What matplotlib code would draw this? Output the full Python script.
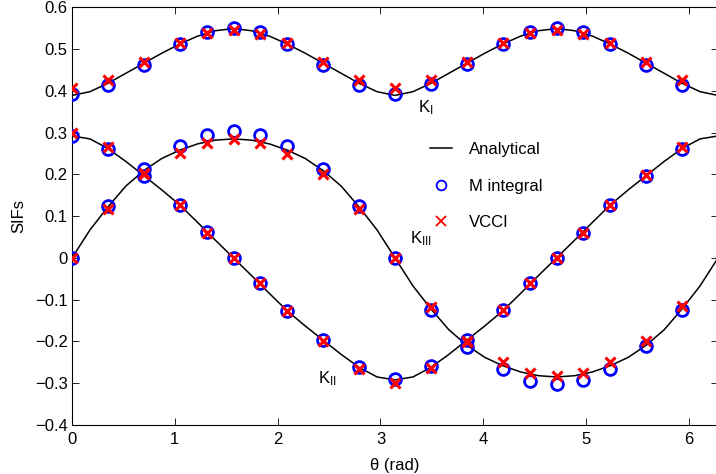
import numpy as np
import matplotlib
matplotlib.use("Agg")
import matplotlib.pyplot as plt
from matplotlib.lines import Line2D

plt.rcParams['font.family'] = ['Liberation Sans', 'DejaVu Sans']
plt.rcParams['mathtext.fontset'] = 'custom'
plt.rcParams['mathtext.rm'] = 'Liberation Sans'
plt.rcParams['mathtext.it'] = 'Liberation Sans:italic'

# ---- data ----
# analytical curves, sampled every 10 degrees from 0 to 360
theta_line_deg = np.arange(0, 361, 10)
KI_line = [0.389, 0.398, 0.418, 0.442, 0.466, 0.490, 0.512, 0.531, 0.544, 0.549,
           0.544, 0.531, 0.512, 0.490, 0.466, 0.442, 0.418, 0.398, 0.389,
           0.398, 0.418, 0.442, 0.466, 0.490, 0.512, 0.531, 0.544, 0.549,
           0.544, 0.531, 0.512, 0.490, 0.466, 0.442, 0.418, 0.398, 0.389]
KII_line = [0.292, 0.285, 0.262, 0.231, 0.197, 0.163, 0.127, 0.085, 0.042, 0.0,
            -0.042, -0.085, -0.127, -0.163, -0.197, -0.231, -0.262, -0.285, -0.292,
            -0.285, -0.262, -0.231, -0.197, -0.163, -0.127, -0.085, -0.042, 0.0,
            0.042, 0.085, 0.127, 0.163, 0.197, 0.231, 0.262, 0.285, 0.292]
KIII_line = [0.0, 0.067, 0.122, 0.172, 0.209, 0.238, 0.258, 0.273, 0.282, 0.285,
             0.282, 0.273, 0.258, 0.238, 0.209, 0.172, 0.122, 0.067, 0.0,
             -0.067, -0.122, -0.172, -0.209, -0.238, -0.258, -0.273, -0.282, -0.285,
             -0.282, -0.273, -0.258, -0.238, -0.209, -0.172, -0.122, -0.067, 0.0]

# numerical results
theta_pts_deg = [0, 20, 40, 60, 75, 90, 105, 120, 140, 160,
                 180, 200, 220, 240, 255, 270, 285, 300, 320, 340]
KI_M = [0.392, 0.414, 0.463, 0.511, 0.541, 0.550, 0.540, 0.511, 0.463, 0.414,
        0.392, 0.416, 0.464, 0.513, 0.541, 0.550, 0.540, 0.511, 0.463, 0.414]
KI_V = [0.406, 0.426, 0.468, 0.514, 0.538, 0.546, 0.536, 0.514, 0.468, 0.426,
        0.406, 0.425, 0.468, 0.514, 0.538, 0.546, 0.536, 0.514, 0.468, 0.426]
KII_M = [0.292, 0.260, 0.196, 0.127, 0.061, 0.0, -0.059, -0.126, -0.197, -0.260,
         -0.289, -0.259, -0.196, -0.125, -0.059, 0.0, 0.059, 0.126, 0.197, 0.260]
KII_V = [0.298, 0.266, 0.203, 0.127, 0.060, 0.0, -0.060, -0.127, -0.198, -0.266,
         -0.299, -0.264, -0.199, -0.125, -0.060, 0.0, 0.060, 0.127, 0.199, 0.266]
KIII_M = [0.0, 0.125, 0.214, 0.268, 0.294, 0.303, 0.294, 0.267, 0.213, 0.125,
          0.0, -0.125, -0.214, -0.265, -0.294, -0.302, -0.293, -0.266, -0.211, -0.125]
KIII_V = [0.0, 0.116, 0.201, 0.250, 0.275, 0.284, 0.276, 0.249, 0.201, 0.116,
          0.0, -0.117, -0.201, -0.248, -0.276, -0.283, -0.275, -0.250, -0.198, -0.114]

xticks = [0, 1, 2, 3, 4, 5, 6]
yticks = [-0.4, -0.3, -0.2, -0.1, 0.0, 0.1, 0.2, 0.3, 0.4, 0.5, 0.6]
ytick_labels = ['\u22120.4', '\u22120.3', '\u22120.2', '\u22120.1', '0',
                '0.1', '0.2', '0.3', '0.4', '0.5', '0.6']

# ---- figure ----
W, H = 716, 474
fig = plt.figure(figsize=(W / 100, H / 100), dpi=100)
ax = fig.add_axes([72 / W, 1 - 425 / H, (718 - 72) / W, (425 - 7.3) / H])

tl = np.deg2rad(theta_line_deg)
tp = np.deg2rad(theta_pts_deg)

for yl in (KI_line, KII_line, KIII_line):
    ax.plot(tl, yl, color='black', lw=1.1, zorder=2)
for ym in (KI_M, KII_M, KIII_M):
    ax.plot(tp, ym, linestyle='none', marker='o', ms=8.5, mfc='none',
            mec=(0, 0, 1), mew=2.0, zorder=3)
for yv in (KI_V, KII_V, KIII_V):
    ax.plot(tp, yv, linestyle='none', marker='x', ms=6.5,
            mec=(1, 0, 0), mew=2.2, zorder=4)

ax.set_xlim(0, 2 * np.pi)
ax.set_ylim(-0.4, 0.6)
ax.set_xticks(xticks)
ax.set_xticklabels([str(v) for v in xticks])
ax.set_yticks(yticks)
ax.set_yticklabels(ytick_labels)
ax.tick_params(direction='in', length=4.7, width=0.6, top=True, right=True,
               labelsize=12)
ax.tick_params(axis='x', pad=5)
ax.tick_params(axis='y', pad=3)
for s in ax.spines.values():
    s.set_linewidth(0.8)

ax.set_xlabel('\u03b8 (rad)', fontsize=12, labelpad=8)
ax.set_ylabel('SIFs', fontsize=12, labelpad=6)

ax.text(3.366, 0.349, r'$\mathrm{K}_{\mathrm{I}}$', fontsize=12, ha='left', va='baseline')
ax.text(3.288, 0.036, r'$\mathrm{K}_{\mathrm{III}}$', fontsize=12, ha='left', va='baseline')
ax.text(2.393, -0.299, r'$\mathrm{K}_{\mathrm{II}}$', fontsize=12, ha='left', va='baseline')

handles = [Line2D([], [], color='black', lw=1.1),
           Line2D([], [], linestyle='none', marker='o', ms=7, mfc='none',
                  mec=(0, 0, 1), mew=1.3),
           Line2D([], [], linestyle='none', marker='x', ms=7,
                  mec=(1, 0, 0), mew=1.3)]
fig.legend(handles, ['Analytical', 'M integral', 'VCCI'], loc='center left',
           bbox_to_anchor=(430 / W, 1 - 186 / H), frameon=False, fontsize=12,
           handlelength=1.32, handletextpad=1.0, labelspacing=1.3,
           borderpad=0, borderaxespad=0)

fig.savefig('out.png', dpi=100)
